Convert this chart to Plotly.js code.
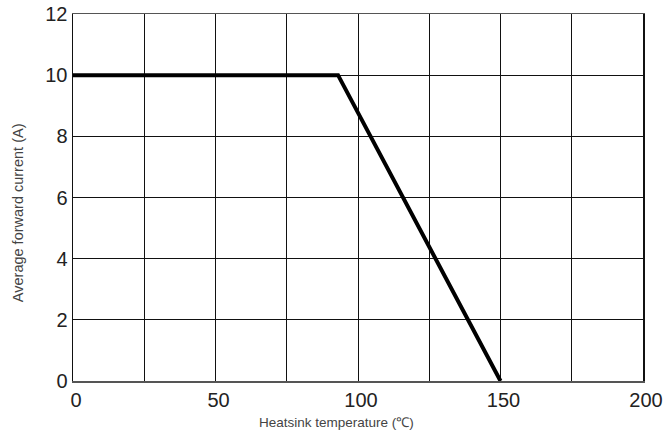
<!DOCTYPE html>
<html>
<head>
<meta charset="utf-8">
<script src="https://cdn.plot.ly/plotly-3.0.1.min.js"></script>
<style>html,body{margin:0;padding:0;background:#fff;}#chart{width:663px;height:438px;}</style>
</head>
<body>
<div id="chart"></div>
<script>
const temperature = [0, 93, 150];
const current = [10, 10, 0];
const xTickVals = [0, 50, 100, 150, 200];
const yTickVals = [0, 2, 4, 6, 8, 10, 12];
const xTitle = 'Heatsink temperature (℃)';
const yTitle = 'Average forward current (A)';

const trace = {
  x: temperature, y: current, mode: 'lines', type: 'scatter',
  line: {color: '#000', width: 4}, hoverinfo: 'none', cliponaxis: false
};

const layout = {
  width: 663, height: 438,
  margin: {l: 73, r: 20, t: 14, b: 57},
  paper_bgcolor: '#fff', plot_bgcolor: '#fff',
  showlegend: false,
  font: {family: 'Liberation Sans, Arial, sans-serif', color: '#222'},
  xaxis: {
    range: [0, 200], tickvals: xTickVals, ticktext: xTickVals.map(String),
    showgrid: true, gridcolor: '#111', gridwidth: 1,
    minor: {dtick: 25, tick0: 0, showgrid: true, gridcolor: '#111', gridwidth: 1},
    showline: true, linecolor: '#555', linewidth: 1.5, mirror: true,
    zeroline: false, ticks: '', ticklen: 0, ticklabelshift: 3,
    tickfont: {size: 20, color: '#222'}
  },
  yaxis: {
    range: [0, 12], tickvals: yTickVals,
    showgrid: true, gridcolor: '#111', gridwidth: 1,
    showline: true, linecolor: '#111', linewidth: 1.5, mirror: true,
    zeroline: false, ticks: '', ticklen: 0,
    tickfont: {size: 20, color: '#222'}
  },
  annotations: [
    {text: xTitle, xref: 'paper', yref: 'paper', x: 0.463, y: -0.112,
     xanchor: 'center', yanchor: 'middle', showarrow: false,
     font: {size: 13.5, color: '#444'}},
    {text: yTitle, xref: 'paper', yref: 'paper', x: -0.0965, y: 0.46,
     xanchor: 'center', yanchor: 'middle', showarrow: false, textangle: -90,
     font: {size: 14.5, color: '#444'}}
  ]
};

Plotly.newPlot('chart', [trace], layout, {displayModeBar: false, staticPlot: true});
</script>
</body>
</html>
